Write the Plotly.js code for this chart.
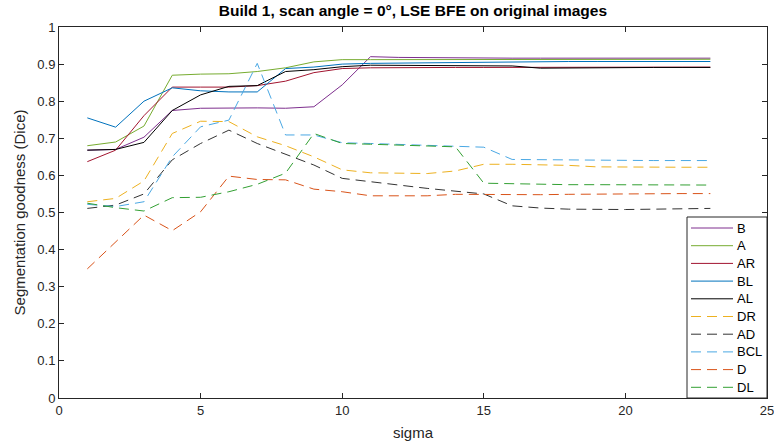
<!DOCTYPE html>
<html>
<head>
<meta charset="utf-8">
<script src="https://cdn.plot.ly/plotly-3.0.1.min.js"></script>
<style>html,body{margin:0;padding:0;background:#fff;}#chart{width:774px;height:445px;}</style>
</head>
<body>
<div id="chart"></div>
<script>
const sigma = [1,2,3,4,5,6,7,8,9,10,11,12,13,14,15,16,17,18,19,20,21,22,23];

const B   = [0.668,0.670,0.703,0.775,0.781,0.782,0.782,0.781,0.785,0.844,0.920,0.918,0.917,0.917,0.917,0.916,0.916,0.916,0.916,0.916,0.916,0.916,0.916];
const A   = [0.680,0.690,0.733,0.870,0.873,0.874,0.880,0.890,0.906,0.912,0.912,0.912,0.912,0.912,0.912,0.912,0.913,0.913,0.913,0.913,0.913,0.913,0.913];
const AR  = [0.637,0.668,0.761,0.838,0.838,0.838,0.842,0.854,0.877,0.888,0.890,0.891,0.891,0.891,0.891,0.891,0.891,0.891,0.892,0.892,0.892,0.892,0.892];
const BL  = [0.755,0.730,0.800,0.836,0.828,0.825,0.825,0.888,0.892,0.900,0.902,0.903,0.903,0.904,0.905,0.905,0.906,0.907,0.907,0.907,0.907,0.907,0.907];
const AL  = [0.668,0.670,0.689,0.775,0.817,0.840,0.842,0.880,0.885,0.893,0.897,0.897,0.897,0.896,0.896,0.895,0.889,0.890,0.890,0.891,0.891,0.891,0.891];
const DR  = [0.529,0.538,0.585,0.713,0.746,0.745,0.704,0.680,0.650,0.615,0.607,0.605,0.605,0.612,0.630,0.630,0.629,0.627,0.623,0.622,0.622,0.622,0.622];
const AD  = [0.511,0.520,0.550,0.642,0.686,0.722,0.686,0.657,0.628,0.592,0.582,0.574,0.565,0.558,0.550,0.518,0.512,0.509,0.508,0.508,0.509,0.510,0.511];
const BCL = [0.522,0.516,0.529,0.650,0.731,0.749,0.902,0.709,0.709,0.688,0.686,0.684,0.682,0.678,0.676,0.643,0.642,0.641,0.641,0.640,0.640,0.640,0.640];
const D   = [0.348,0.420,0.493,0.451,0.502,0.598,0.589,0.588,0.563,0.556,0.545,0.545,0.545,0.549,0.548,0.547,0.548,0.549,0.550,0.550,0.551,0.551,0.551];
const DL  = [0.525,0.513,0.504,0.540,0.541,0.556,0.576,0.606,0.713,0.686,0.684,0.681,0.679,0.677,0.579,0.577,0.576,0.575,0.575,0.575,0.574,0.574,0.574];

const names  = ['B','A','AR','BL','AL','DR','AD','BCL','D','DL'];
const series = [B, A, AR, BL, AL, DR, AD, BCL, D, DL];
const colors = ['#7E2F8E','#77AC30','#A2142F','#0072BD','#000000','#EDB120','#333333','#4AA8E4','#D95319','#33A033'];
const dashes = ['solid','solid','solid','solid','solid','10px,6px','10px,6px','10px,6px','10px,6px','10px,6px'];

const traces = names.map((n,i)=>({
  x: sigma, y: series[i], name: n, type:'scatter', mode:'lines',
  line:{color:colors[i], width:1, dash:dashes[i]}
}));

// plot area geometry (pixels) used to place a MATLAB-style legend box
const W = 774, H = 445, ML = 59, MR = 7, MT = 27, MB = 47;
const PW = W - ML - MR, PH = H - MT - MB;
const px = v => (v - ML) / PW;          // pixel x -> paper x
const py = v => (H - MB - v) / PH;      // pixel y -> paper y

const legBox = {x0:687, x1:767, y0:217, y1:398};
const legFirstY = 228, legStep = 17.7, legLineX0 = 691, legLineX1 = 733, legTextX = 735;

const shapes = [{
  type:'rect', xref:'paper', yref:'paper', layer:'above',
  x0:px(legBox.x0), x1:px(legBox.x1), y0:py(legBox.y1), y1:py(legBox.y0),
  fillcolor:'#ffffff', line:{color:'#262626', width:1}
}];
const annotations = [];
names.forEach((n,i)=>{
  const yy = py(legFirstY + legStep*i);
  shapes.push({type:'line', xref:'paper', yref:'paper', layer:'above',
    x0:px(legLineX0), x1:px(legLineX1), y0:yy, y1:yy,
    line:{color:colors[i], width:1, dash:dashes[i]}});
  annotations.push({xref:'paper', yref:'paper', x:px(legTextX), y:yy, xanchor:'left', yanchor:'middle',
    text:n, showarrow:false, font:{family:'Liberation Sans, Arial, sans-serif', size:13, color:'#000'}});
});

const font = {family:'Liberation Sans, Arial, sans-serif', color:'#262626'};
const axisCommon = {
  showgrid:false, zeroline:false, showline:true, mirror:'ticks',
  linecolor:'#262626', linewidth:1, ticks:'inside', ticklen:5, tickcolor:'#262626',
  ticklabeloverflow:'allow',
  tickfont:{family:font.family, size:13, color:'#262626'}
};

const layout = {
  width:W, height:H,
  margin:{l:ML, r:MR, t:MT, b:MB},
  paper_bgcolor:'#fff', plot_bgcolor:'#fff',
  font: font,
  title:{text:'<b>Build 1, scan angle = 0°, LSE BFE on original images</b>', font:{family:font.family,size:15.5,color:'#000'}, x:0.5335, xanchor:'center', y:0.988, yanchor:'top'},
  xaxis: Object.assign({}, axisCommon, {range:[0,25], tickvals:[0,5,10,15,20,25], ticktext:['0','5','10','15','20','25'],
    title:{text:'sigma', font:{family:font.family,size:15,color:'#262626'}, standoff:10}}),
  yaxis: Object.assign({}, axisCommon, {range:[0,1], tickvals:[0,0.1,0.2,0.3,0.4,0.5,0.6,0.7,0.8,0.9,1], ticktext:['0','0.1','0.2','0.3','0.4','0.5','0.6','0.7','0.8','0.9','1'],
    title:{text:'Segmentation goodness (Dice)', font:{family:font.family,size:15,color:'#262626'}, standoff:8}}),
  showlegend:false,
  shapes: shapes,
  annotations: annotations
};

Plotly.newPlot('chart', traces, layout, {displayModeBar:false, staticPlot:true});
</script>
</body>
</html>
